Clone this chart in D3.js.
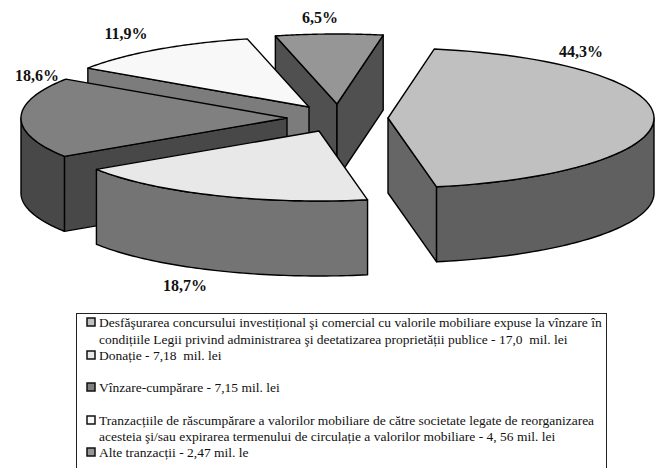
<!DOCTYPE html>
<head>
    <meta charset="utf-8">
    <script src="https://d3js.org/d3.v7.min.js"></script>
    <style>
        body { margin: 0; background: #fff; }
        text { font-family: "Liberation Serif", serif; fill: #111; }
    </style>
</head>
<body>
<svg width="656" height="468"></svg>

<script>
    // data
    var sliceValues = [44.3, 18.7, 18.6, 11.9, 6.5];
    var sliceLabels = ["44,3%", "18,7%", "18,6%", "11,9%", "6,5%"];
    var legendEntries = [
        ["Desfăşurarea concursului investițional şi comercial cu valorile mobiliare expuse la vînzare în",
         "condițiile Legii privind administrarea şi deetatizarea proprietății publice - 17,0  mil. lei"],
        ["Donație - 7,18  mil. lei"],
        ["Vînzare-cumpărare - 7,15 mil. lei"],
        ["Tranzacțiile de răscumpărare a valorilor mobiliare de către societate legate de reorganizarea",
         "acesteia şi/sau expirarea termenului de circulație a valorilor mobiliare - 4, 56 mil. lei"],
        ["Alte tranzacții - 2,47 mil. le"]
    ];

    // colours per slice
    var topColors = ["#c0c0c0", "#e8e8e8", "#808080", "#f8f8f8", "#969696"];
    var wallColors = ["#606060", "#747474", "#484848", "#7c7c7c", "#4c4c4c"];
    var faceColors = ["#666666", "#747474", "#484848", "#7c7c7c", "#505050"];

    // layout of the exploded slices (apex of each one) and of the labels
    var apexes = [[388, 118], [319, 131], [287, 118], [309, 107], [337, 104]];
    var labelPos = [[581, 57], [185, 291], [37, 81], [126, 39], [320, 23]];
    var paintOrder = [4, 3, 2, 0, 1];

    var rx = 266, ry = 70, depth = 75;

    var svg = d3.select("svg");

    var pie = d3.pie().sort(null)
        .startAngle(10 * Math.PI / 180)
        .endAngle(370 * Math.PI / 180);
    var slices = pie(sliceValues);

    var line = d3.line();

    // point on the tilted circle, angle clockwise from the top
    function rim(apex, a, dy) {
        return [apex[0] + rx * Math.sin(a), apex[1] - ry * Math.cos(a) + (dy || 0)];
    }

    function arcPoints(apex, a0, a1, dy) {
        return d3.range(0, 61).map(function(i) {
            return rim(apex, a0 + (a1 - a0) * i / 60, dy);
        });
    }

    function drawPoly(pts, fill) {
        svg.append("path")
            .attr("d", line(pts) + "Z")
            .attr("fill", fill)
            .attr("stroke", "#000")
            .attr("stroke-width", 1.4)
            .attr("stroke-linejoin", "round");
    }

    paintOrder.forEach(function(i) {
        var s = slices[i], c = apexes[i];
        var a0 = s.startAngle, a1 = s.endAngle;
        var bottom = [c[0], c[1] + depth];

        // cut faces, only the ones turned toward the viewer
        if (Math.sin(a0) < 0) {
            drawPoly([c, rim(c, a0), rim(c, a0, depth), bottom], faceColors[i]);
        }
        if (Math.sin(a1) > 0) {
            drawPoly([c, rim(c, a1), rim(c, a1, depth), bottom], faceColors[i]);
        }

        // outer wall: the front half of the rim
        var w0 = Math.max(a0, Math.PI / 2), w1 = Math.min(a1, 1.5 * Math.PI);
        if (w1 > w0) {
            drawPoly(arcPoints(c, w0, w1).concat(arcPoints(c, w1, w0, depth)), wallColors[i]);
        }

        // top
        drawPoly([c].concat(arcPoints(c, a0, a1)), topColors[i]);
    });

    svg.selectAll("text.pct")
        .data(sliceLabels)
        .enter()
        .append("text")
        .attr("class", "pct")
        .attr("x", function(d, i) { return labelPos[i][0]; })
        .attr("y", function(d, i) { return labelPos[i][1]; })
        .attr("text-anchor", "middle")
        .attr("font-size", 16)
        .attr("font-weight", "bold")
        .text(function(d) { return d; });

    // legend, its box runs off the bottom of the picture
    svg.append("rect")
        .attr("x", 76.5).attr("y", 313.5)
        .attr("width", 530).attr("height", 170)
        .attr("fill", "#fff")
        .attr("stroke", "#222")
        .attr("stroke-width", 1);

    var lineY = [[327, 344], [360], [392], [425, 441], [457]];

    legendEntries.forEach(function(lines, i) {
        svg.append("rect")
            .attr("x", 87).attr("y", lineY[i][0] - 9)
            .attr("width", 8).attr("height", 8)
            .attr("fill", topColors[i])
            .attr("stroke", "#111")
            .attr("stroke-width", 1.5);
        lines.forEach(function(t, j) {
            svg.append("text")
                .attr("x", 99)
                .attr("y", lineY[i][j])
                .attr("font-size", 13.5)
                .style("white-space", "pre")
                .text(t);
        });
    });
</script>
</body>
